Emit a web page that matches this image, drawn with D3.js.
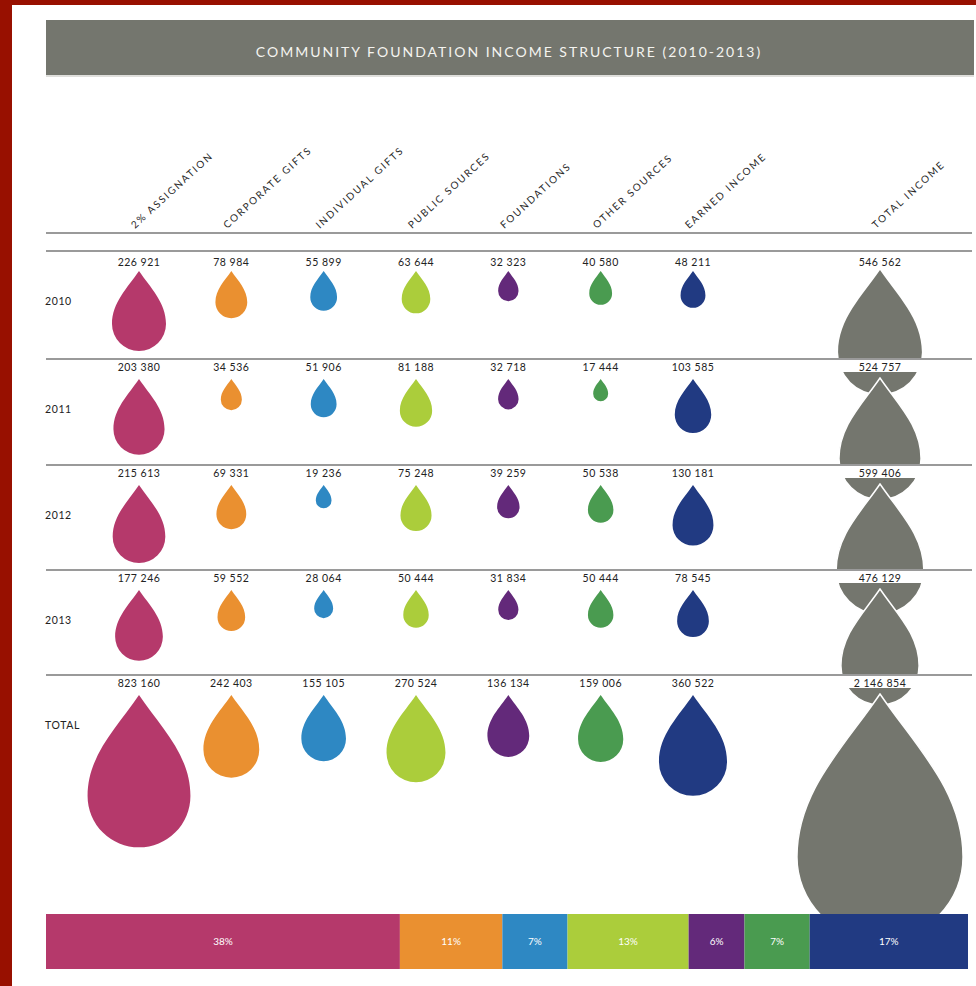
<!DOCTYPE html>
<html><head><meta charset="utf-8">
<script src="https://cdn.jsdelivr.net/npm/d3@7"></script>
<style>
html,body{margin:0;padding:0;background:#981000;}
svg{display:block;}
text{font-family:Lato,"Open Sans",sans-serif;}
</style></head>
<body>
<svg id="c" width="976" height="986"></svg>
<script>
const title = "COMMUNITY FOUNDATION INCOME STRUCTURE (2010-2013)";
const categories = ["2% ASSIGNATION","CORPORATE GIFTS","INDIVIDUAL GIFTS","PUBLIC SOURCES","FOUNDATIONS","OTHER SOURCES","EARNED INCOME"];
const totalLabel = "TOTAL INCOME";
const rowLabels = ["2010","2011","2012","2013","TOTAL"];
const v2010 = [226921,78984,55899,63644,32323,40580,48211];
const v2011 = [203380,34536,51906,81188,32718,17444,103585];
const v2012 = [215613,69331,19236,75248,39259,50538,130181];
const v2013 = [177246,59552,28064,50444,31834,50444,78545];
const vTotal = [823160,242403,155105,270524,136134,159006,360522];
const totalIncome = [546562,524757,599406,476129,2146854];
const shares = [38,11,7,13,6,7,17];
const colors = ["#b5396b","#ea9030","#2e88c3","#abcd3b","#63297a","#4a9b50","#213a82"];
const gray = "#74766e";

const rows = [v2010,v2011,v2012,v2013,vTotal];
const svg = d3.select("#c");
// white panel
svg.append("rect").attr("x",12).attr("y",5).attr("width",964).attr("height",981).attr("fill","#fff");

// title bar
svg.append("rect").attr("x",46).attr("y",20).attr("width",928).attr("height",55).attr("fill",gray);
svg.append("line").attr("x1",46).attr("x2",974).attr("y1",76).attr("y2",76).attr("stroke","#d4d4d0").attr("stroke-width",1.5);
svg.append("text").attr("x",509).attr("y",57).attr("text-anchor","middle")
  .attr("fill","#f4f4f0").attr("font-size",14).attr("letter-spacing",2).text(title);

const x = d3.scalePoint().domain(categories).range([139,693]);
const xTotal = 880;
const r = d3.scaleSqrt().domain([0,226921]).range([0,27]);
const lineYs = [251,359,465,570,675];

function drop(rr){
  const L = 1.963*rr;
  return `M0,0 C${-0.42*rr},${0.62*rr} ${-rr},${L-0.8*rr} ${-rr},${L} A${rr},${rr} 0 0 0 ${rr},${L} C${rr},${L-0.8*rr} ${0.42*rr},${0.62*rr} 0,0 Z`;
}

// column headers
const hdr = svg.append("g");
categories.concat([totalLabel]).forEach((c,i)=>{
  const cx = i<7 ? x(c) : xTotal;
  hdr.append("text").attr("transform",`translate(${cx-4},229) rotate(-42.5)`)
    .attr("font-size",10).attr("letter-spacing",1.8).attr("fill","#2a2a2a").text(c);
});

// colored drops
rows.forEach((vals,ri)=>{
  const tip = lineYs[ri] + 20;
  const g = svg.append("g");
  g.selectAll("path").data(vals).join("path")
    .attr("transform",(d,i)=>`translate(${x(categories[i])},${tip})`)
    .attr("d",d=>drop(r(d)))
    .attr("fill",(d,i)=>colors[i]);
});

// total income drops
const gt = svg.append("g");
totalIncome.forEach((v,ri)=>{
  const tip = lineYs[ri] + 19;
  gt.append("path").attr("transform",`translate(${xTotal},${tip})`)
    .attr("d",drop(r(v))).attr("fill",gray)
    .attr("stroke","#fff").attr("stroke-width",ri===0?0:1.5);
});
// clipping bands below each row line in total column
lineYs.slice(1).forEach(y=>{
  svg.append("rect").attr("x",780).attr("y",y).attr("width",196).attr("height",13).attr("fill","#fff");
});

// lines
svg.append("line").attr("x1",46).attr("x2",972).attr("y1",233).attr("y2",233).attr("stroke","#9a9a9a").attr("stroke-width",2);
lineYs.forEach(y=>{
  svg.append("line").attr("x1",46).attr("x2",972).attr("y1",y).attr("y2",y).attr("stroke","#9a9a9a").attr("stroke-width",2);
});

// value labels
const fmt = v => d3.format(",")(v).replace(/,/g," ");
rows.forEach((vals,ri)=>{
  const ly = lineYs[ri] + (ri===0?15:12);
  svg.append("g").selectAll("text").data(vals).join("text")
    .attr("x",(d,i)=>x(categories[i])).attr("y",ly)
    .attr("text-anchor","middle").attr("font-size",10.5).attr("letter-spacing",0.5)
    .attr("fill","#222").text(fmt);
  svg.append("text").attr("x",xTotal).attr("y",ly).attr("text-anchor","middle")
    .attr("font-size",10.5).attr("letter-spacing",0.5).attr("fill","#222").text(fmt(totalIncome[ri]));
  svg.append("text").attr("x",45).attr("y",lineYs[ri]+54).attr("font-size",10.5)
    .attr("letter-spacing",0.6).attr("fill","#222").text(rowLabels[ri]);
});

// share bar
const sumS = d3.sum(shares);
const bx = d3.scaleLinear().domain([0,sumS]).range([46,968]);
let acc = 0;
const segs = shares.map((s,i)=>{const o={s,i,x0:acc}; acc+=s; return o;});
const gb = svg.append("g");
gb.selectAll("rect").data(segs).join("rect")
  .attr("x",d=>bx(d.x0)).attr("y",914).attr("width",d=>bx(d.x0+d.s)-bx(d.x0)).attr("height",55)
  .attr("fill",d=>colors[d.i]);
gb.selectAll("text").data(segs).join("text")
  .attr("x",d=>(bx(d.x0)+bx(d.x0+d.s))/2).attr("y",945).attr("text-anchor","middle")
  .attr("font-size",10).attr("fill","#fff").text(d=>d.s+"%");
</script>
</body></html>
